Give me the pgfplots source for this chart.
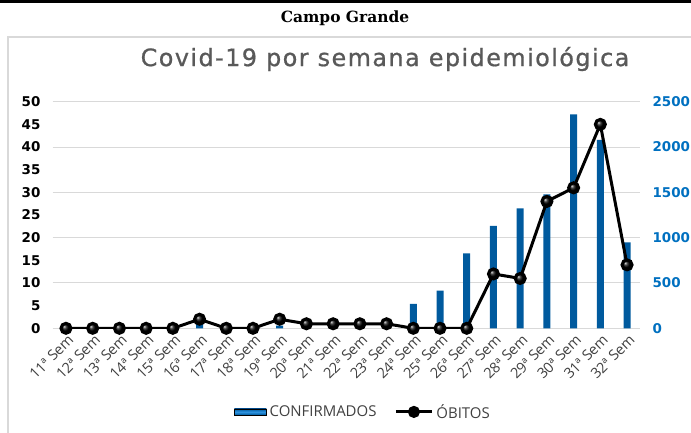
\documentclass[border=0pt]{standalone}
\usepackage{fontspec}
\setmainfont{Open Sans}
\newfontfamily\headfont{DejaVu Serif}
\newfontfamily\numfont{DejaVu Sans}
\newfontfamily\titlefont[FakeBold=0.8, LetterSpace=6]{DejaVu Sans}
\usepackage{pgfplots}
\pgfplotsset{compat=1.18}
\definecolor{barblue}{HTML}{0070C0}
\definecolor{barlight}{HTML}{2E93E0}
\definecolor{bardark}{HTML}{005A9E}
\definecolor{gridgray}{HTML}{D9D9D9}
\definecolor{titlegray}{HTML}{595959}
\definecolor{labgray}{HTML}{404040}
\begin{document}
\begin{tikzpicture}[x=1bp,y=1bp]
\path[use as bounding box] (0,0) rectangle (691,432);
\draw[black, line width=3bp] (0,430.5) -- (691,430.5);
\node[font=\headfont\bfseries\fontsize{15.5}{15.5}\selectfont] at (345,414) {Campo Grande};
\draw[gridgray, line width=1.5bp] (8,-10) -- (8,395) -- (700,395);
\node[font=\titlefont\fontsize{24}{24}\selectfont, text=titlegray] at (385,373) {Covid-19 por semana epidemiológica};

\begin{axis}[
  at={(52.6bp,103.7bp)}, anchor=south west,
  scale only axis, width=587.8bp, height=226.6bp,
  xmin=-0.5, xmax=21.5, ymin=0, ymax=2500,
  axis x line=none, axis y line*=right,
  axis line style={draw=none},
  major tick length=0pt,
  ytick={0,500,...,2500},
  ymajorgrids, grid style={gridgray, line width=1bp},
  scaled y ticks=false,
  /pgf/number format/1000 sep={},
  /pgf/number format/assume math mode=true,
  yticklabel style={font=\numfont\bfseries\fontsize{13.5}{13.5}\selectfont, text=barblue, anchor=west, inner sep=0pt, xshift=12bp},
]
\addplot[ybar, bar width=7bp, draw=none, left color=bardark, middle color=barlight, right color=bardark, shading angle=90] coordinates {
(0,0) (1,0) (2,0) (3,0) (4,0) (5,45) (6,0) (7,0) (8,30) (9,0) (10,0)
(11,0) (12,0) (13,270) (14,415) (15,827) (16,1130) (17,1324) (18,1478)
(19,2360) (20,2078) (21,949)};
\end{axis}

\begin{axis}[
  at={(52.6bp,103.7bp)}, anchor=south west,
  scale only axis, width=587.8bp, height=226.6bp,
  xmin=-0.5, xmax=21.5, ymin=0, ymax=50,
  axis y line*=left, axis x line*=bottom,
  axis line style={draw=none},
  major tick length=0pt,
  ytick={0,5,...,50},
  xtick={0,...,21},
  xticklabels={11ª Sem,12ª Sem,13ª Sem,14ª Sem,15ª Sem,16ª Sem,17ª Sem,18ª Sem,19ª Sem,20ª Sem,21ª Sem,22ª Sem,23ª Sem,24ª Sem,25ª Sem,26ª Sem,27ª Sem,28ª Sem,29ª Sem,30ª Sem,31ª Sem,32ª Sem},
  /pgf/number format/assume math mode=true,
  yticklabel style={font=\numfont\bfseries\fontsize{13.5}{13.5}\selectfont, text=black, anchor=east, inner sep=0pt, xshift=-12bp},
  xticklabel style={font=\fontsize{14.5}{14.5}\selectfont, text=labgray, inner sep=0pt, xshift=5bp, yshift=-9bp, rotate=45, anchor=east},
  legend style={at={(0.528,-0.369)}, anchor=center, draw=none, fill=none, legend columns=2,
    font=\fontsize{15}{15}\selectfont, text=labgray, column sep=1bp, inner sep=0pt,
    /tikz/column 2/.style={column sep=16bp}},
]
\addlegendimage{legend image code/.code={\fill[left color=bardark, right color=bardark, middle color=barlight, shading angle=0] (0bp,-3bp) rectangle (32bp,3bp);}}
\addlegendentry{CONFIRMADOS}
\addplot[black, line width=3bp, mark=ball, mark size=5bp, mark options={ball color=black},
  legend image code/.code={\draw[black, line width=3bp] (0bp,0bp) -- (36bp,0bp); \draw[black, fill=black] (18bp,0bp) circle (4.5bp);}] coordinates {
(0,0) (1,0) (2,0) (3,0) (4,0) (5,2) (6,0) (7,0) (8,2) (9,1) (10,1)
(11,1) (12,1) (13,0) (14,0) (15,0) (16,12) (17,11) (18,28) (19,31)
(20,45) (21,14)};
\addlegendentry{ÓBITOS}
\end{axis}
\end{tikzpicture}
\end{document}
